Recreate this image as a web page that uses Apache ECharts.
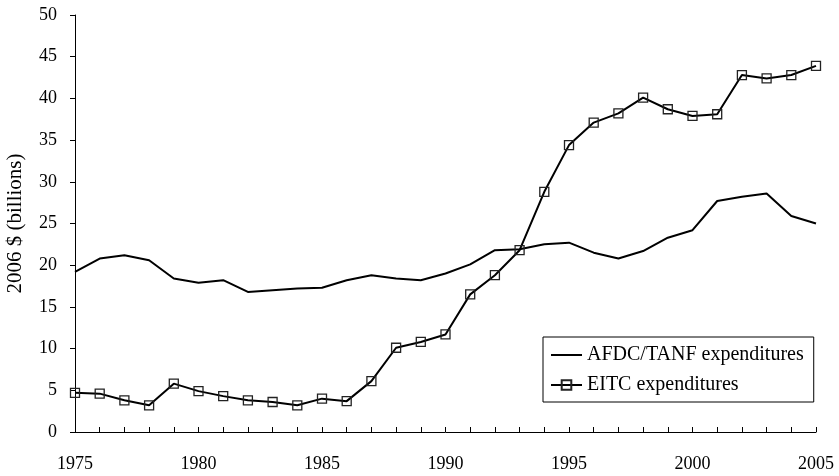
<!DOCTYPE html>
<html>
<head>
<meta charset="utf-8">
<script src="https://cdn.jsdelivr.net/npm/echarts@6/dist/echarts.min.js"></script>
<style>
  html, body { margin: 0; padding: 0; background: #fff; }
  #chart { width: 839px; height: 476px; }
</style>
</head>
<body>
<div id="chart"></div>
<script>
const years = [1975, 1976, 1977, 1978, 1979, 1980, 1981, 1982, 1983, 1984, 1985, 1986, 1987, 1988, 1989, 1990,
  1991, 1992, 1993, 1994, 1995, 1996, 1997, 1998, 1999, 2000, 2001, 2002, 2003, 2004, 2005]
const afdc = [19.2, 20.8, 21.2, 20.6, 18.4, 17.9, 18.2, 16.8, 17.0, 17.2, 17.3, 18.2, 18.8, 18.4, 18.2, 19.0,
  20.1, 21.8, 21.9, 22.5, 22.7, 21.5, 20.8, 21.7, 23.3, 24.2, 27.7, 28.2, 28.6, 25.9, 25.0]
const eitc = [4.7, 4.6, 3.8, 3.2, 5.8, 4.9, 4.3, 3.8, 3.6, 3.2, 4.0, 3.7, 6.1, 10.1, 10.8, 11.7,
  16.5, 18.8, 21.8, 28.8, 34.4, 37.1, 38.2, 40.1, 38.7, 37.9, 38.1, 42.8, 42.4, 42.8, 43.9]
const seriesNames = ['AFDC/TANF expenditures', 'EITC expenditures']

const font = 'Liberation Serif, Times New Roman, serif'

function pairs(vals) {
  const out = []
  for (let i = 0; i < years.length; i++) {
    out.push([years[i], vals[i]])
  }
  return out
}

var myChart = echarts.init(document.getElementById('chart'))
var option = {
  animation: false,
  backgroundColor: '#fff',
  textStyle: { fontFamily: font, color: '#000' },
  grid: { left: 75, right: 23, top: 15, bottom: 44, outerBoundsMode: 'none' },
  legend: {
    orient: 'vertical',
    left: 543,
    top: 337,
    padding: [8, 10, 7, 7],
    itemGap: 10,
    itemWidth: 31,
    itemHeight: 12,
    borderColor: '#000',
    borderWidth: 1,
    textStyle: { fontFamily: font, fontSize: 20, color: '#000' },
    data: seriesNames
  },
  xAxis: {
    type: 'value',
    min: 1975,
    max: 2005,
    interval: 1,
    splitLine: { show: false },
    axisLine: { lineStyle: { color: '#000', width: 1 } },
    axisTick: { inside: true, length: 5, lineStyle: { color: '#000' } },
    axisLabel: {
      margin: 23,
      fontSize: 18,
      color: '#000',
      fontFamily: font,
      formatter: function(v) { return v % 5 === 0 ? String(v) : '' }
    }
  },
  yAxis: {
    type: 'value',
    min: 0,
    max: 50,
    interval: 5,
    name: '2006 $ (billions)',
    nameLocation: 'middle',
    nameGap: 49,
    nameTextStyle: { fontFamily: font, fontSize: 21, color: '#000' },
    splitLine: { show: false },
    axisLine: { show: true, lineStyle: { color: '#000', width: 1 } },
    axisTick: { show: true, inside: false, length: 5, lineStyle: { color: '#000' } },
    axisLabel: { margin: 18, fontSize: 18, color: '#000', fontFamily: font }
  },
  series: [{
    name: seriesNames[0],
    type: 'line',
    data: pairs(afdc),
    showSymbol: false,
    symbol: 'circle',
    symbolSize: 0,
    lineStyle: { color: '#000', width: 2 },
    itemStyle: { color: 'rgba(0,0,0,0)' }
  }, {
    name: seriesNames[1],
    type: 'line',
    data: pairs(eitc),
    symbol: 'rect',
    symbolSize: 9,
    lineStyle: { color: '#000', width: 2 },
    itemStyle: { color: 'rgba(255,255,255,0)', borderColor: '#222', borderWidth: 1.3 }
  }]
}
myChart.setOption(option)
</script>
</body>
</html>
